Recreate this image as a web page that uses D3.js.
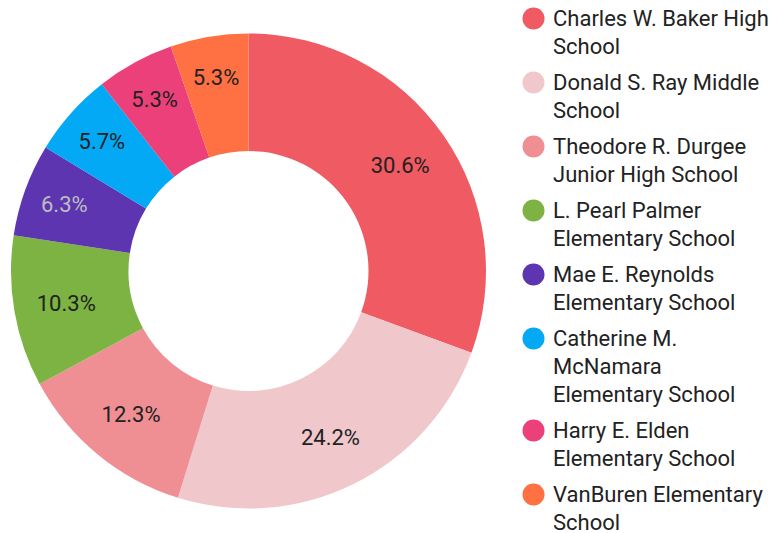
<!DOCTYPE html>
<html>
<head>
<meta charset="utf-8">
<script src="https://cdn.jsdelivr.net/npm/d3@7"></script>
<style>
  body { margin: 0; background: #fff; }
  svg { display: block; font-family: Roboto, "Noto Sans", sans-serif; }
</style>
</head>
<body>
<script>
// données
var schools = [
  "Charles W. Baker High School",
  "Donald S. Ray Middle School",
  "Theodore R. Durgee Junior High School",
  "L. Pearl Palmer Elementary School",
  "Mae E. Reynolds Elementary School",
  "Catherine M. McNamara Elementary School",
  "Harry E. Elden Elementary School",
  "VanBuren Elementary School"
];
var shares = [30.6, 24.2, 12.3, 10.3, 6.3, 5.7, 5.3, 5.3];
var colors = ["#f05a62", "#f0c8cc", "#ef8f94", "#7cb342", "#5e35b1", "#03a9f4", "#ec407a", "#ff7043"];
var labelColors = ["#212121", "#212121", "#212121", "#212121", "#bdbdbd", "#212121", "#212121", "#212121"];

var width = 777, height = 533;
var cx = 248.5, cy = 271, outerR = 237.5, innerR = 120;

var svg = d3.select("body")
  .append("svg")
  .attr("width", width)
  .attr("height", height);

var data = schools.map(function(s, i) { return { name: s, value: shares[i], i: i }; });

var pie = d3.pie().sort(null).value(function(d) { return d.value; });
var arc = d3.arc().innerRadius(innerR).outerRadius(outerR);
// les petites parts ont leur étiquette un peu plus vers l'extérieur
var labelArc = d3.arc()
  .innerRadius(function(d) { return d.data.value < 8 ? 196 : 185; })
  .outerRadius(function(d) { return d.data.value < 8 ? 196 : 185; });

var donut = svg.append("g").attr("transform", "translate(" + cx + "," + cy + ")");

var slices = donut.selectAll("g.slice")
  .data(pie(data))
  .enter().append("g")
  .attr("class", "slice");

slices.append("path")
  .attr("d", arc)
  .attr("fill", function(d) { return colors[d.data.i]; });

slices.append("text")
  .attr("transform", function(d) { return "translate(" + labelArc.centroid(d) + ")"; })
  .attr("text-anchor", "middle")
  .attr("dy", "0.35em")
  .attr("font-size", 22)
  .attr("fill", function(d) { return labelColors[d.data.i]; })
  .text(function(d) { return d.data.value.toFixed(1) + "%"; });

// légende à droite
var legendX = 533.5, textX = 553, maxW = 220, lineH = 28, gap = 8;
var legend = svg.append("g");
var y = 18.5;

data.forEach(function(d) {
  var item = legend.append("g");
  item.append("circle")
    .attr("cx", legendX)
    .attr("cy", y)
    .attr("r", 11)
    .attr("fill", colors[d.i]);

  var txt = item.append("text")
    .attr("x", textX)
    .attr("font-size", 22)
    .attr("fill", "#222");

  // découpage du texte en lignes
  var words = d.name.split(" "), line = [], nLines = 0;
  var tspan = txt.append("tspan").attr("x", textX).attr("y", y).attr("dy", "0.35em");
  words.forEach(function(w) {
    line.push(w);
    tspan.text(line.join(" "));
    if (tspan.node().getComputedTextLength() > maxW && line.length > 1) {
      line.pop();
      tspan.text(line.join(" "));
      line = [w];
      nLines++;
      tspan = txt.append("tspan").attr("x", textX).attr("y", y + nLines * lineH).attr("dy", "0.35em").text(w);
    }
  });
  nLines++;
  y += nLines * lineH + gap;
});
</script>
</body>
</html>
